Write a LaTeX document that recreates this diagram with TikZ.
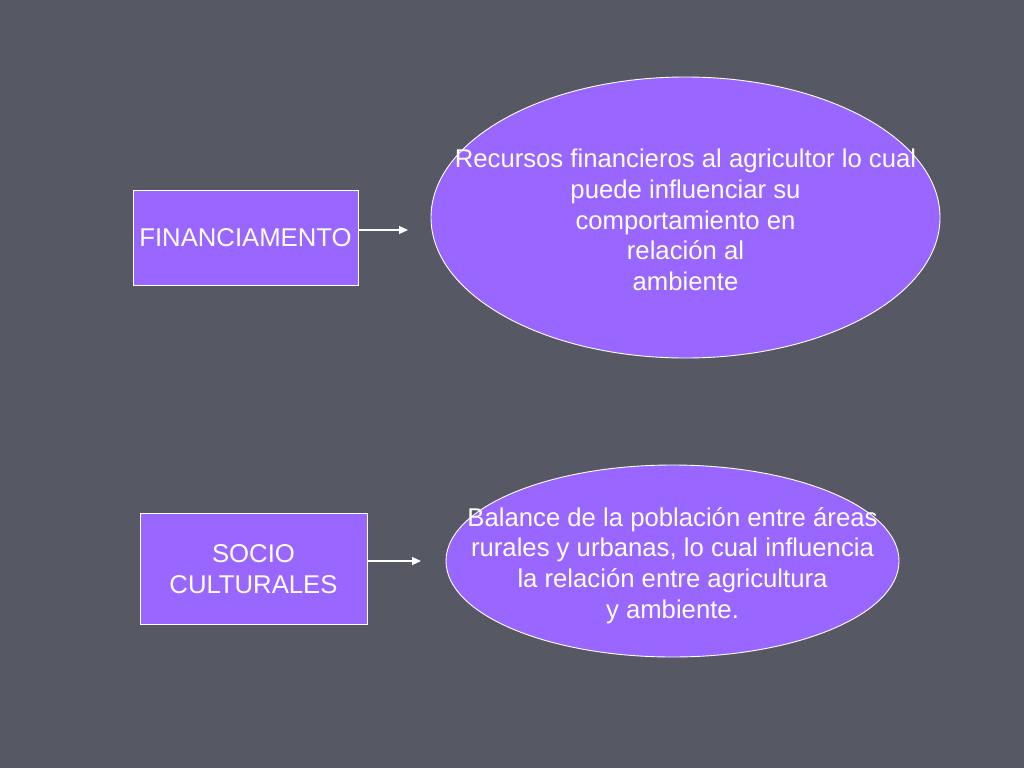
\documentclass[tikz,border=0pt]{standalone}
\usepackage{fontspec}
\setmainfont{Liberation Sans}
\usetikzlibrary{shapes.geometric,arrows.meta}
\definecolor{bg}{RGB}{86,89,100}
\definecolor{vio}{RGB}{153,102,255}
\tikzset{
  boxnode/.style={draw=white,line width=0.9pt,fill=vio,text=white,font=\fontsize{25.7}{31.5}\selectfont,align=center,inner sep=0pt},
  ovalnode/.style={ellipse,draw=white,line width=0.9pt,fill=vio,inner sep=0pt},
  ovaltext/.style={text=white,font=\fontsize{25.7}{30.7}\selectfont,align=center,inner sep=0pt},
  conn/.style={draw=white,line width=1.2pt,-{Triangle[length=9pt,width=8pt]}}
}
\begin{document}
\begin{tikzpicture}[x=1pt,y=-1pt]
\useasboundingbox (0,0) rectangle (1024,768);
\fill[bg] (0,0) rectangle (1024,768);
\node[boxnode,minimum width=225pt,minimum height=95pt] (fin) at (245.5,237.5) {FINANCIAMENTO};
\node[boxnode,minimum width=227pt,minimum height=111pt] (soc) at (253.5,569) {SOCIO\\CULTURALES};
\node[ovalnode,minimum width=509pt,minimum height=281pt] (e1) at (685.5,217.5) {};
\node[ovaltext] (t1) at (685.5,220) {Recursos financieros al agricultor lo cual\\puede influenciar su\\comportamiento en\\relación al\\ambiente};
\node[ovalnode,minimum width=453pt,minimum height=192pt] (e2) at (672.5,561) {};
\node[ovaltext] (t2) at (672.5,565.5) {Balance de la población entre áreas\\rurales y urbanas, lo cual influencia\\la relación entre agricultura\\y ambiente.};
\coordinate (a1) at (408,230);
\coordinate (a2) at (421,561);
\draw[conn] (fin.east |- a1) -- (a1);
\draw[conn] (soc.east |- a2) -- (a2);
\end{tikzpicture}
\end{document}
